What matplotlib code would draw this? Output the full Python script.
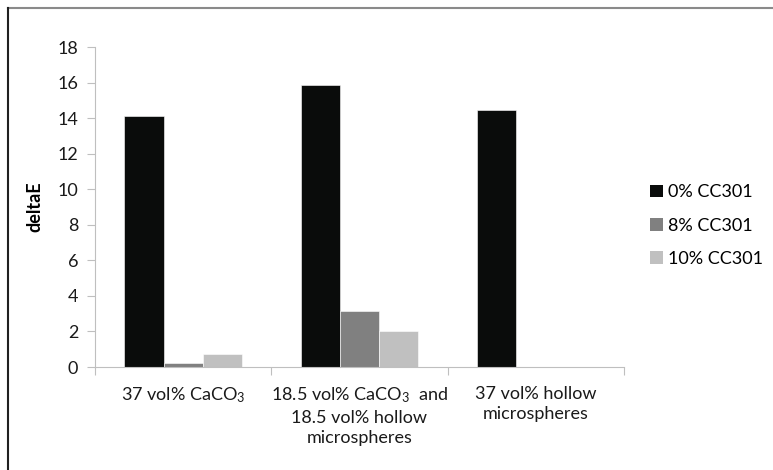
import numpy as np
import matplotlib.pyplot as plt
from matplotlib.lines import Line2D
from matplotlib.patches import Patch

plt.rcParams['font.family'] = ['Lato', 'DejaVu Sans']
plt.rcParams['mathtext.default'] = 'regular'

# data
categories = ['37 vol% CaCO$_3$',
              '18.5 vol% CaCO$_3$  and\n18.5 vol% hollow\nmicrospheres',
              '37 vol% hollow\nmicrospheres']
series_names = ['0% CC301', '8% CC301', '10% CC301']
cc0 = [14.1, 15.85, 14.45]
cc8 = [0.25, 3.15, 0.0]
cc10 = [0.75, 2.0, 0.0]
colors = ['#0a0c0b', '#808080', '#c0c0c0']

fig = plt.figure(figsize=(7.73, 4.70), dpi=100)
ax = fig.add_axes([0.1229, 0.2191, 0.6843, 0.6809])

x = np.arange(len(categories))
w = 0.223
for i, (vals, c) in enumerate(zip([cc0, cc8, cc10], colors)):
    ax.bar(x + (i - 1) * w, vals, w, color=c, edgecolor='white', linewidth=0.4, zorder=2)

ax.set_xlim(-0.5, 2.5)
ax.set_ylim(0, 18)
ax.set_yticks(np.arange(0, 19, 2))
ax.tick_params(axis='y', labelsize=13, length=6, color='#bfbfbf', pad=6, labelcolor='#1a1a1a')

# category boundaries as x ticks, labels placed in the middle
ax.set_xticks([-0.5, 0.5, 1.5, 2.5])
ax.set_xticklabels([])
ax.tick_params(axis='x', length=6, color='#bfbfbf')
for xi, lab in zip(x, categories):
    ax.text(xi, -1.05, lab, ha='center', va='top', fontsize=13, color='#1a1a1a',
            linespacing=1.35)

for s in ['top', 'right']:
    ax.spines[s].set_visible(False)
for s in ['left', 'bottom']:
    ax.spines[s].set_color('#bfbfbf')

ax.set_ylabel('deltaE', fontsize=13, fontweight='bold', labelpad=10)

handles = [Patch(facecolor=c, edgecolor='none') for c in colors]
fig.legend(handles, series_names, loc='center left', bbox_to_anchor=(0.82, 0.52),
           frameon=False, fontsize=13, handlelength=0.7, handleheight=0.7,
           handletextpad=0.3, labelspacing=0.95)

# outer frame: gray top edge, dark left edge
fig.add_artist(Line2D([8 / 773, 1], [1 - 8 / 470] * 2, color='#8a8a8a', lw=1.5,
                      transform=fig.transFigure))
fig.add_artist(Line2D([8 / 773] * 2, [0, 1 - 8 / 470], color='#202020', lw=1.5,
                      transform=fig.transFigure))

fig.savefig('out.png', dpi=100)
